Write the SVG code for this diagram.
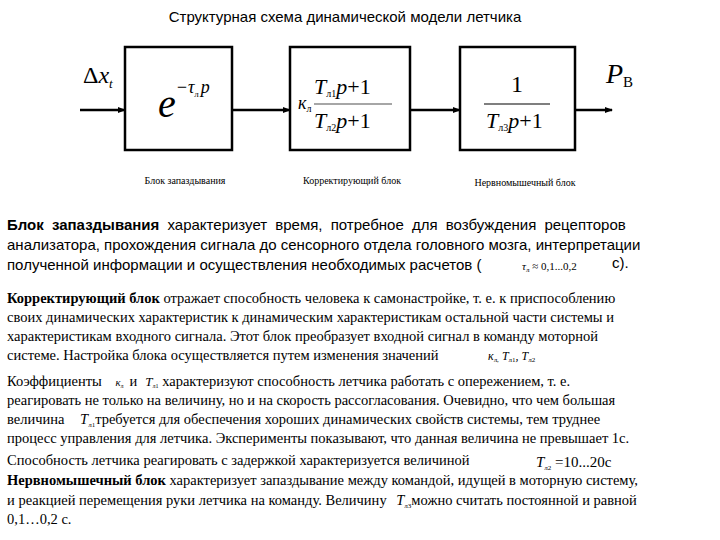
<svg xmlns="http://www.w3.org/2000/svg" width="720" height="540" viewBox="0 0 720 540">
<style>
.box{fill:#fff;stroke:#000;stroke-width:2.5}
.ln{stroke:#000;stroke-width:2.5;fill:none}
.m{font-style:italic}
.s{font-size:15px}
.t{font-size:14.5px}
.cap{font-size:10px}
</style>
<defs><marker id="a" markerWidth="8" markerHeight="8" refX="7" refY="4" orient="auto" markerUnits="userSpaceOnUse"><path d="M0,1 L8,4 L0,7z"/></marker></defs>
<rect width="720" height="540" fill="#fff"/>
<text x="345" y="22" text-anchor="middle" font-family="Liberation Sans,sans-serif" font-size="15">Структурная схема динамической модели летчика</text>
<g id="connectors">
<line class="ln" x1="80" y1="110" x2="125" y2="110" marker-end="url(#a)"/>
<line class="ln" x1="232" y1="110" x2="290" y2="110" marker-end="url(#a)"/>
<line class="ln" x1="410" y1="110" x2="460" y2="110" marker-end="url(#a)"/>
<line class="ln" x1="575" y1="110" x2="612" y2="110" marker-end="url(#a)"/>
</g>
<g font-family="Liberation Serif,serif">
<g id="input"><text x="83" y="83" font-size="24">Δ<tspan font-style="italic">x</tspan><tspan font-size="13" font-style="italic" dy="5">t</tspan></text></g>
<g id="output"><text class="m" x="606" y="83" font-size="28">P<tspan font-size="15" font-style="normal" dy="4">В</tspan></text></g>
<g id="block1">
<rect class="box" x="125" y="47" width="107" height="103"/>
<text class="m" x="158" y="117" font-size="40">e<tspan font-size="18" dy="-24">−τ</tspan><tspan font-size="9" font-style="normal" dy="4">л</tspan><tspan font-size="18" dx="2" dy="-4">p</tspan></text>
<text class="cap" x="185" y="184" text-anchor="middle">Блок запаздывания</text>
</g>
<g id="block2">
<rect class="box" x="290" y="47" width="120" height="103"/>
<text class="m" x="298" y="109" font-size="18">к<tspan font-size="10" font-style="normal" dy="3">л</tspan></text>
<text class="m" x="314" y="94" font-size="22">T<tspan font-size="10" font-style="normal" dy="3">л1</tspan><tspan dy="-3">p</tspan><tspan font-style="normal">+1</tspan></text>
<line x1="314" y1="104" x2="392" y2="104" stroke="#888" stroke-width="1.5"/>
<text class="m" x="314" y="128" font-size="22">T<tspan font-size="10" font-style="normal" dy="3">л2</tspan><tspan dy="-3">p</tspan><tspan font-style="normal">+1</tspan></text>
<text class="cap" x="352" y="184" text-anchor="middle">Корректирующий блок</text>
</g>
<g id="block3">
<rect class="box" x="460" y="47" width="115" height="103"/>
<text x="517" y="92" font-size="24" text-anchor="middle">1</text>
<line x1="484" y1="104" x2="550" y2="104" stroke="#000" stroke-width="1.2"/>
<text class="m" x="486" y="128" font-size="22">T<tspan font-size="10" font-style="normal" dy="3">л3</tspan><tspan dy="-3">p</tspan><tspan font-style="normal">+1</tspan></text>
<text class="cap" x="525" y="186" text-anchor="middle">Нервномышечный блок</text>
</g>
</g>
<g font-family="Liberation Sans,sans-serif">
<text class="s" x="7" y="230" word-spacing="4"><tspan font-weight="bold">Блок запаздывания</tspan> характеризует время, потребное для возбуждения рецепторов</text>
<text class="s" x="7" y="250">анализатора, прохождения сигнала до сенсорного отдела головного мозга, интерпретации</text>
<text class="s" x="7" y="270">полученной информации и осуществления необходимых расчетов (</text>
<text class="s" x="612" y="268" font-size="13">с).</text>
</g>
<g font-family="Liberation Serif,serif">
<text class="m" x="522" y="270" font-size="11">τ<tspan font-size="7" font-style="normal" dy="2">л</tspan><tspan dy="-2" font-style="normal"> ≈ 0,1...0,2</tspan></text>
<text class="t" x="7" y="303"><tspan font-weight="bold">Корректирующий блок</tspan> отражает способность человека к самонастройке, т. е. к приспособлению</text>
<text class="t" x="7" y="322">своих динамических характеристик к динамическим характеристикам остальной части системы и</text>
<text class="t" x="7" y="341">характеристикам входного сигнала. Этот блок преобразует входной сигнал в команду моторной</text>
<text class="t" x="7" y="360">системе. Настройка блока осуществляется путем изменения значений</text>
<text class="m" x="488" y="360" font-size="12">к<tspan font-size="7" font-style="normal" dy="2">л,</tspan><tspan dy="-2"> T</tspan><tspan font-size="7" font-style="normal" dy="2">л1</tspan><tspan dy="-2">, T</tspan><tspan font-size="7" font-style="normal" dy="2">л2</tspan></text>
<text class="t" x="7" y="386">Коэффициенты <tspan font-style="italic" font-size="11" dx="10">к</tspan><tspan font-size="6" dy="2">л</tspan><tspan dy="-2" dx="6">и</tspan><tspan font-style="italic" font-size="13" dx="8">T</tspan><tspan font-size="6" dy="2">л1</tspan><tspan dy="-2"> характеризуют способность летчика работать с опережением, т. е.</tspan></text>
<text class="t" x="7" y="405">реагировать не только на величину, но и на скорость рассогласования. Очевидно, что чем большая</text>
<text class="t" x="7" y="424">величина <tspan font-style="italic" dx="12">T</tspan><tspan font-size="7" dy="3">л1</tspan><tspan dy="-3">требуется для обеспечения хороших динамических свойств системы, тем труднее</tspan></text>
<text class="t" x="7" y="443">процесс управления для летчика. Эксперименты показывают, что данная величина не превышает 1с.</text>
<text class="t" x="7" y="465">Способность летчика реагировать с задержкой характеризуется величиной</text>
<text class="m" x="536" y="467" font-size="15">T<tspan font-size="7" font-style="normal" dy="3">л2</tspan><tspan dy="-3" font-style="normal"> =10...20с</tspan></text>
<text class="t" x="7" y="485"><tspan font-weight="bold">Нервномышечный блок</tspan> характеризует запаздывание между командой, идущей в моторную систему,</text>
<text class="t" x="7" y="505">и реакцией перемещения руки летчика на команду. Величину <tspan font-style="italic" dx="6">T</tspan><tspan font-size="7" dy="3">л3</tspan><tspan dy="-3">можно считать постоянной и равной</tspan></text>
<text class="t" x="7" y="524">0,1…0,2 с.</text>
</g>
</svg>
